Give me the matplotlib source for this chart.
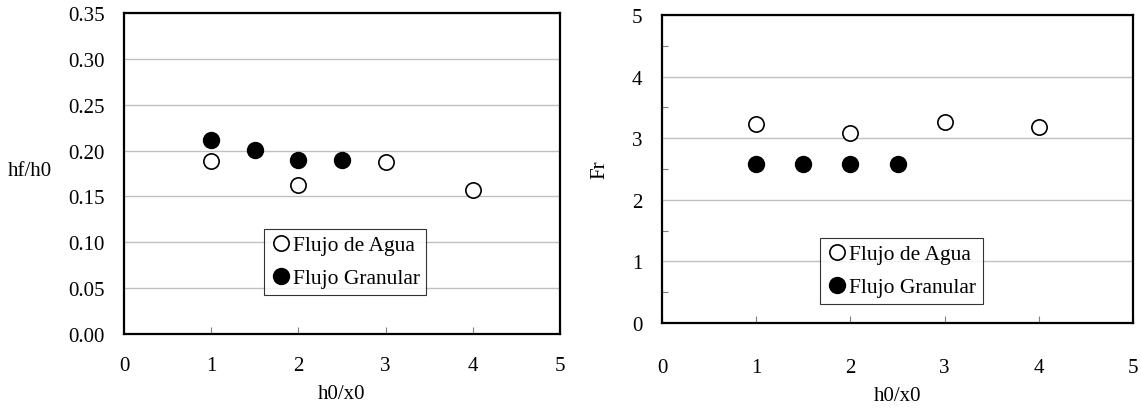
import matplotlib
matplotlib.use("Agg")
from matplotlib import pyplot as plt
from matplotlib.ticker import MultipleLocator

# data
agua_x = [1, 2, 3, 4]
agua_hf = [0.189, 0.162, 0.188, 0.157]
agua_fr = [3.23, 3.09, 3.26, 3.18]

gran_x = [1, 1.5, 2, 2.5]
gran_hf = [0.211, 0.201, 0.190, 0.190]
gran_fr = [2.58, 2.58, 2.58, 2.58]

plt.rcParams["font.family"] = ["Liberation Serif", "DejaVu Serif"]
plt.rcParams["font.size"] = 15


def style_axes(ax, ymax, ystep, xpad):
    ax.set_xlim(0, 5)
    ax.set_ylim(0, ymax)
    ax.xaxis.set_major_locator(MultipleLocator(1))
    ax.yaxis.set_major_locator(MultipleLocator(ystep))
    ax.grid(axis="y", color="#c0c0c0", linewidth=1)
    ax.set_axisbelow(True)
    for s in ax.spines.values():
        s.set_linewidth(1.6)
    ax.tick_params(axis="x", direction="in", length=5, width=0.8,
                   color="#808080", pad=xpad)
    ax.tick_params(axis="y", length=0, pad=14)


def add_legend(ax, box):
    leg = ax.legend(loc="lower left", bbox_to_anchor=box, mode="expand",
                    frameon=True, fancybox=False, handletextpad=0.05,
                    handlelength=1.0, borderpad=0.3, borderaxespad=0,
                    labelspacing=0.6, fontsize=15.5)
    leg.get_frame().set_edgecolor("black")
    leg.get_frame().set_linewidth(0.8)
    return leg


fig = plt.figure(figsize=(11.41, 4.10), dpi=100)
ax1 = fig.add_axes([0.1087, 0.183, 0.3821, 0.783])
ax2 = fig.add_axes([0.5802, 0.210, 0.4128, 0.751])

# left panel
style_axes(ax1, 0.35, 0.05, 16)
ax1.yaxis.set_major_formatter(lambda v, p: f"{v:.2f}")
ax1.plot(agua_x, agua_hf, "o", ms=11, mfc="white", mec="black",
         mew=1.2, label="Flujo de Agua")
ax1.plot(gran_x, gran_hf, "o", ms=11.5, mfc="black", mec="black",
         label="Flujo Granular")
ax1.set_xlabel("h0/x0", labelpad=6)
ax1.set_ylabel("hf/h0", rotation=0, labelpad=0)
ax1.yaxis.set_label_coords(-0.215, 0.48)
add_legend(ax1, (0.32, 0.122, 0.373, 0.225))

# right panel
style_axes(ax2, 5, 1, 25)
ax2.yaxis.set_minor_locator(MultipleLocator(0.5))
ax2.tick_params(axis="y", which="minor", direction="in", length=4,
                width=0.8, color="#808080")
ax2.plot(agua_x, agua_fr, "o", ms=11, mfc="white", mec="black",
         mew=1.2, label="Flujo de Agua")
ax2.plot(gran_x, gran_fr, "o", ms=11.5, mfc="black", mec="black",
         label="Flujo Granular")
ax2.set_xlabel("h0/x0", labelpad=7)
ax2.set_ylabel("Fr", labelpad=16)
add_legend(ax2, (0.335, 0.062, 0.346, 0.232))

fig.savefig("out.png", dpi=100)
